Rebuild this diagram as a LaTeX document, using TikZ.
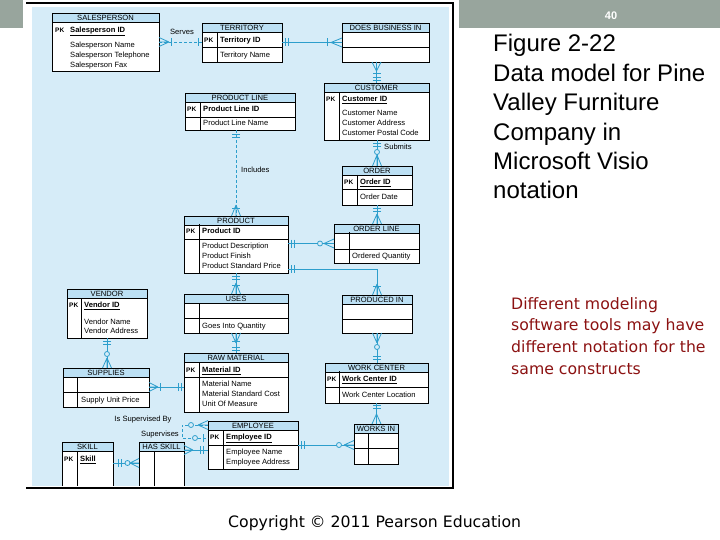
\documentclass[tikz,border=0pt]{standalone}
\usepackage{fontspec}
\setmainfont{Liberation Sans}
\newfontfamily\dejavu{DejaVu Sans}
\usetikzlibrary{calc}
\definecolor{bgblue}{RGB}{214,236,248}
\definecolor{hdrblue}{RGB}{188,224,244}
\definecolor{connblue}{RGB}{45,158,204}
\definecolor{barGray}{RGB}{152,165,157}
\definecolor{darkred}{RGB}{140,18,18}
\newcounter{tn}
\tikzset{
  entbox/.style={fill=white,draw=none,inner sep=0pt,outer sep=0pt},
  entbord/.style={draw=black,line width=0.9pt},
  entline/.style={draw=black,line width=0.7pt},
  enttitle/.style={font=\fontsize{7.6}{8}\selectfont,anchor=base,inner sep=0pt},
  attr/.style={font=\fontsize{7.6}{8}\selectfont,anchor=base west,inner sep=0pt},
  pkstyle/.style={font=\bfseries\fontsize{6.5}{7}\selectfont,anchor=base west,inner sep=0pt},
  rel/.style={draw=connblue,line width=0.8pt},
  reldash/.style={rel,dash pattern=on 3pt off 2pt},
  lbl/.style={font=\fontsize{7.6}{8}\selectfont,inner sep=0pt},
}
\newcommand\entity[7][]{%
  \pgfmathsetmacro\ew{#5-#3}\pgfmathsetmacro\eh{#6-#4}%
  \node[entbox,minimum width=\ew pt,minimum height=\eh pt,anchor=north west] (#2) at (#3,#4) {};
  \fill[hdrblue] (#2.north west) rectangle ($(#2.north east)+(0,9)$);
  \draw[entline] ($(#2.north west)+(0,9)$) -- ($(#2.north east)+(0,9)$);
  \draw[entbord,#1] (#2.north west) rectangle (#2.south east);
  \node[enttitle] (#2-title) at ($(#2.north)+(0,7.2)$) {#7};
}
\newcommand\hsep[2]{\draw[entline] (#1.west |- 0,#2) -- (#1.east |- 0,#2);}
\newcommand\vsep[3]{\draw[entline] (#2,#3) -- (#2,#3 |- #1.south);}
\newcommand\tx[3]{\stepcounter{tn}\node[attr] (t\arabic{tn}) at (#1,#2+2.7) {#3};}
\newcommand\pk[2]{\stepcounter{tn}\node[pkstyle] (t\arabic{tn}) at (#1,#2+2.7) {PK};}
% notation symbols: point, angle (direction away from entity), distance
\newcommand\crowf[3][10]{\begin{scope}[shift={(#2)},rotate=#3]
  \draw[rel] (#1,0) -- (0,-4.5) (#1,0) -- (0,4.5) (#1,0) -- (0,0);\end{scope}}
\newcommand\obar[3]{\begin{scope}[shift={(#1)},rotate=#2]
  \draw[rel] (#3,-4) -- (#3,4);\end{scope}}
\newcommand\ocirc[3]{\begin{scope}[shift={(#1)},rotate=#2]
  \draw[rel,fill=bgblue] (#3,0) circle (2.5);\end{scope}}
\begin{document}
\begin{tikzpicture}[x=1pt,y=-1pt]
\useasboundingbox (0,0) rectangle (720,540);
\fill[white] (0,0) rectangle (720,540);
\fill[barGray] (0,0) rectangle (720,28);
\fill[white] (23,0) rectangle (459,28);
\fill[bgblue] (32,7) rectangle (449,486);
\draw[black,line width=1.3pt] (26,3) -- (453,3) -- (453,488) -- (26,488);
\node[font=\bfseries\fontsize{11}{12}\selectfont,text=white] (pgnum) at (611,16) {40};

% ---------------- entities
\entity{sp}{52}{13}{159}{71}{SALESPERSON}
\pk{55}{30}\tx{70}{30}{\textbf{\underline{Salesperson ID}}}
\tx{70}{45}{Salesperson Name}\tx{70}{55}{Salesperson Telephone}\tx{70}{65}{Salesperson Fax}

\entity{tr}{202}{23}{282}{62}{TERRITORY}
\hsep{tr}{47}\vsep{tr}{217}{32}
\pk{204}{40}\tx{220}{40}{\textbf{Territory ID}}\tx{220}{55}{Territory Name}

\entity{dbi}{342}{23}{429}{62}{DOES BUSINESS IN}
\hsep{dbi}{47}

\entity{cu}{324}{83}{429}{140}{CUSTOMER}
\vsep{cu}{339}{92}
\pk{326}{99}\tx{342}{99}{\textbf{\underline{Customer ID}}}
\tx{342}{113}{Customer Name}\tx{342}{123}{Customer Address}\tx{342}{133}{Customer Postal Code}

\entity{pl}{185}{93}{295}{130}{PRODUCT LINE}
\hsep{pl}{117}\vsep{pl}{200}{102}
\pk{187}{109}\tx{203}{109}{\textbf{Product Line ID}}\tx{203}{123}{Product Line Name}

\entity{or}{342}{166}{412}{205}{ORDER}
\hsep{or}{189}\vsep{or}{357}{175}
\pk{344}{182}\tx{360}{182}{\textbf{\underline{Order ID}}}\tx{360}{197}{Order Date}

\entity{pr}{184}{216}{288}{273}{PRODUCT}
\hsep{pr}{239}\vsep{pr}{199}{224}
\pk{186}{231}\tx{202}{231}{\textbf{Product ID}}
\tx{202}{246}{Product Description}\tx{202}{256}{Product Finish}\tx{202}{266}{Product Standard Price}

\entity{ol}{334}{224}{419}{263}{ORDER LINE}
\hsep{ol}{249}\vsep{ol}{349}{232}
\tx{352}{256}{Ordered Quantity}

\entity{us}{184}{294}{288}{333}{USES}
\hsep{us}{318}\vsep{us}{199}{303}
\tx{202}{326}{Goes Into Quantity}

\entity{pi}{342}{295}{412}{333}{PRODUCED IN}
\hsep{pi}{319}

\entity{ve}{67}{289}{147}{338}{VENDOR}
\vsep{ve}{81}{298}
\pk{69}{305}\tx{84}{305}{\textbf{\underline{Vendor ID}}}
\tx{84}{322}{Vendor Name}\tx{84}{331}{Vendor Address}

\entity{su}{63}{368}{149}{407}{SUPPLIES}
\hsep{su}{392}\vsep{su}{77}{377}
\tx{81}{400}{Supply Unit Price}

\entity{rm}{184}{353}{288}{412}{RAW MATERIAL}
\hsep{rm}{377}\vsep{rm}{199}{362}
\pk{186}{370}\tx{202}{370}{\textbf{\underline{Material ID}}}
\tx{202}{384}{Material Name}\tx{202}{394}{Material Standard Cost}\tx{202}{404}{Unit Of Measure}

\entity{wc}{325}{363}{428}{403}{WORK CENTER}
\hsep{wc}{387}\vsep{wc}{339}{371}
\pk{327}{379}\tx{342}{379}{\textbf{\underline{Work Center ID}}}\tx{342}{395}{Work Center Location}

\entity{wi}{354}{424}{398}{464}{WORKS IN}
\hsep{wi}{448}\vsep{wi}{368}{433}

\entity{em}{208}{421}{298}{469}{EMPLOYEE}
\hsep{em}{445}\vsep{em}{223}{430}
\pk{210}{437}\tx{226}{437}{\textbf{\underline{Employee ID}}}
\tx{226}{452}{Employee Name}\tx{226}{462}{Employee Address}

\entity[draw=none]{sk}{62}{442}{113}{486}{SKILL}
\draw[entbord] (sk.south west) -- (sk.north west) -- (sk.north east) -- (sk.south east);
\vsep{sk}{77}{451}
\pk{64}{459}\tx{80}{459}{\textbf{\underline{Skill}}}

\entity[draw=none]{hs}{139}{442}{184}{486}{HAS SKILL}
\draw[entbord] (hs.south west) -- (hs.north west) -- (hs.north east) -- (hs.south east);
\vsep{hs}{154}{451}

% ---------------- connector end points
\coordinate (c1a) at (sp.east);
\coordinate (c1b) at (sp.east -| tr.west);
\coordinate (c2a) at (tr.east);
\coordinate (c2b) at (tr.east -| dbi.west);
\coordinate (c3a) at (cu.north |- dbi.south);
\coordinate (c3b) at (cu.north);
\coordinate (c4a) at (or.north |- cu.south);
\coordinate (c4b) at (or.north);
\coordinate (c5a) at (or.south);
\coordinate (c5b) at (or.south |- ol.north);
\coordinate (c6a) at (pr.north |- pl.south);
\coordinate (c6b) at (pr.north);
\coordinate (c7a) at (ol.west -| pr.east);
\coordinate (c7b) at (ol.west);
\coordinate (c8a) at ($(pr.south east)+(0,-4)$);
\coordinate (c8b) at (pi.north);
\coordinate (c9a) at (pr.south);
\coordinate (c9b) at (pr.south |- us.north);
\coordinate (c10a) at (us.south);
\coordinate (c10b) at (us.south |- rm.north);
\coordinate (c11a) at (ve.south);
\coordinate (c11b) at (ve.south |- su.north);
\coordinate (c12a) at ($(rm.north west)+(0,34)$);
\coordinate (c12b) at (c12a -| su.east);
\coordinate (c13a) at (pi.south);
\coordinate (c13b) at (pi.south |- wc.north);
\coordinate (c14a) at (wc.south);
\coordinate (c14b) at (wc.south |- wi.north);
\coordinate (c15a) at ($(em.north east)+(0,24)$);
\coordinate (c15b) at (c15a -| wi.west);
\coordinate (c16a) at ($(em.north west)+(0,29)$);
\coordinate (c16b) at (c16a -| hs.east);
\coordinate (c17a) at ($(sk.north east)+(0,21)$);
\coordinate (c17b) at (c17a -| hs.west);
\coordinate (c18a) at ($(em.north west)+(0,4)$);
\coordinate (c18b) at ($(em.north west)+(0,17)$);

% ---------------- connectors
% Serves
\draw[reldash] (c1a) -- (c1b);
\crowf{c1a}{0}\obar{c1a}{0}{12}\obar{c1b}{180}{4}
\node[lbl] (lserves) at (182,32) {Serves};
% Territory - Does business in
\draw[rel] (c2a) -- (c2b);
\obar{c2a}{0}{3}\obar{c2a}{0}{6}\crowf[11]{c2b}{180}\obar{c2b}{180}{15}
% Does business in - Customer
\draw[rel] (c3a) -- (c3b);
\crowf[9]{c3a}{270}\obar{c3a}{270}{11}\obar{c3b}{90}{3}\obar{c3b}{90}{5.5}
% Submits
\draw[rel] (c4a) -- (c4b);
\obar{c4a}{270}{3}\obar{c4a}{270}{6}\crowf[11]{c4b}{90}\ocirc{c4b}{90}{14}
\node[lbl,anchor=west] (lsubmits) at (384,147) {Submits};
% Order - Order line
\draw[rel] (c5a) -- (c5b);
\obar{c5a}{270}{3}\obar{c5a}{270}{6}\crowf{c5b}{90}
% Includes
\draw[reldash] (c6a) -- (c6b);
\obar{c6a}{270}{4}\obar{c6a}{270}{7}\crowf[11]{c6b}{90}\obar{c6b}{90}{8}
\node[lbl,anchor=west] (lincludes) at (241,170) {Includes};
% Product - Order line
\draw[rel] (c7a) -- (c7b);
\obar{c7a}{0}{3}\obar{c7a}{0}{6}\crowf{c7b}{180}\ocirc{c7b}{180}{14}
% Product - Produced in
\draw[rel] (c8a) -| (c8b);
\obar{c8a}{0}{3}\obar{c8a}{0}{6}\crowf[11]{c8b}{90}\obar{c8b}{90}{9}
% Product - Uses
\draw[rel] (c9a) -- (c9b);
\obar{c9a}{270}{3}\obar{c9a}{270}{6}\crowf[11]{c9b}{90}\obar{c9b}{90}{9}
% Uses - Raw material
\draw[rel] (c10a) -- (c10b);
\crowf{c10a}{270}\obar{c10a}{270}{8}\obar{c10b}{90}{3}\obar{c10b}{90}{6}
% Vendor - Supplies
\draw[rel] (c11a) -- (c11b);
\obar{c11a}{270}{3}\obar{c11a}{270}{6}\crowf{c11b}{90}\ocirc{c11b}{90}{14}
% Raw material - Supplies
\draw[rel] (c12a) -- (c12b);
\obar{c12a}{180}{3}\obar{c12a}{180}{6}\crowf[9]{c12b}{0}\obar{c12b}{0}{11}
% Produced in - Work center
\draw[rel] (c13a) -- (c13b);
\crowf{c13a}{270}\ocirc{c13a}{270}{14}\obar{c13b}{90}{4}\obar{c13b}{90}{7}
% Work center - Works in
\draw[rel] (c14a) -- (c14b);
\obar{c14a}{270}{2.5}\obar{c14a}{270}{5}\crowf{c14b}{90}
% Employee - Works in
\draw[rel] (c15a) -- (c15b);
\obar{c15a}{0}{3}\obar{c15a}{0}{6}\crowf{c15b}{180}\ocirc{c15b}{180}{15}
% Employee - Has skill
\draw[rel] (c16a) -- (c16b);
\obar{c16a}{180}{5}\obar{c16a}{180}{8}\crowf[9]{c16b}{0}
% Skill - Has skill
\draw[rel] (c17a) -- (c17b);
\obar{c17a}{0}{5}\obar{c17a}{0}{8}\crowf[9]{c17b}{180}\ocirc{c17b}{180}{11.5}
% Supervises (recursive)
\draw[reldash] (c18a) -- ++(-26,0) |- (c18b);
\crowf{c18a}{180}\ocirc{c18a}{180}{17}\ocirc{c18b}{180}{13}\obar{c18b}{180}{5}
\node[lbl] (lissup) at (143,420) {Is Supervised By};
\node[lbl] (lsup) at (160,435) {Supervises};

% ---------------- slide texts
\foreach \t [count=\i from 0] in {Figure 2-22,Data model for Pine,Valley Furniture,Company in,Microsoft Visio,notation}
  \node[anchor=base west,inner sep=0pt,font=\fontsize{24}{29}\selectfont] (fig\i) at (493,52+29.4*\i) {\t};
\foreach \t [count=\i from 0] in {Different modeling,software tools may have,different notation for the,same constructs}
  \node[anchor=base west,inner sep=0pt,text=darkred,font=\dejavu\fontsize{15.7}{21}\selectfont] (note\i) at (511,309+21.7*\i) {\t};
\node[anchor=base west,inner sep=0pt,font=\dejavu\fontsize{15.7}{20}\selectfont] (copyr) at (228,527) {Copyright © 2011 Pearson Education};
\end{tikzpicture}
\end{document}
